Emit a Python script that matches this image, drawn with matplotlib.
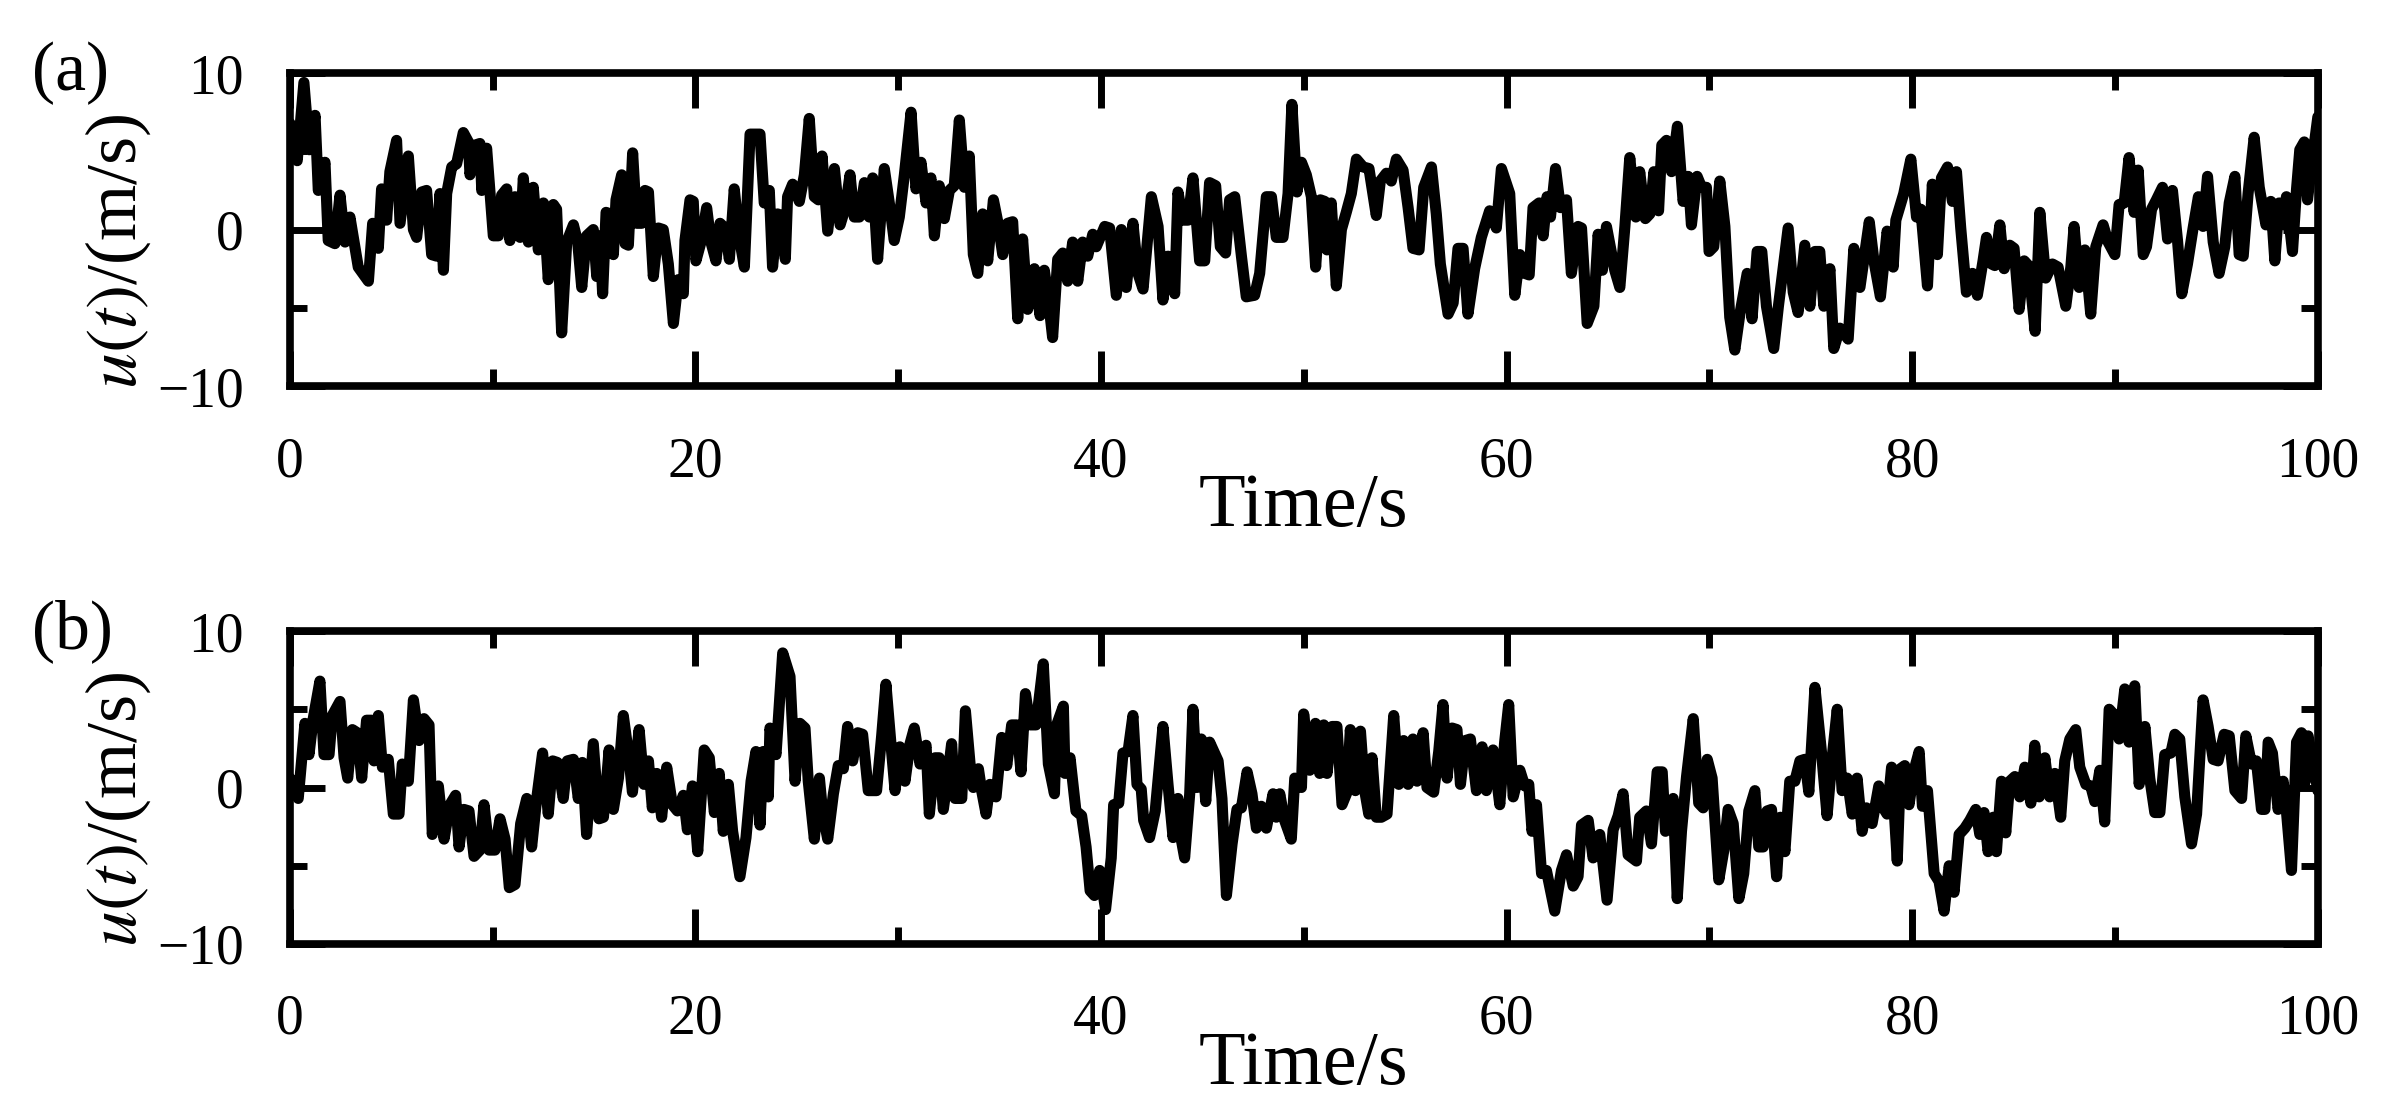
import matplotlib
matplotlib.use("Agg")
import matplotlib.pyplot as plt
from matplotlib.ticker import MultipleLocator

plt.rcParams['font.family'] = 'Liberation Serif'
plt.rcParams['mathtext.fontset'] = 'stix'

# (a) wind speed series (turning points)
t_a = [0.0, 0.36, 0.69, 0.96, 1.24, 1.40, 1.73, 1.89, 2.22, 2.47, 2.72, 2.96, 3.37, 3.87,
       4.08, 4.36, 4.52, 4.77, 4.93, 5.26, 5.43, 5.84, 6.09, 6.25, 6.50, 6.74, 6.99, 7.24,
       7.40, 7.57, 7.73, 7.98, 8.22, 8.55, 8.80, 8.88, 9.13, 9.37, 9.46, 9.70, 10.03, 10.28,
       10.44, 10.69, 10.85, 11.10, 11.35, 11.51, 11.76, 12.00, 12.25, 12.50, 12.74, 12.99,
       13.15, 13.40, 13.65, 13.98, 14.19, 14.39, 14.63, 14.96, 15.13, 15.29, 15.42, 15.59,
       15.79, 15.95, 16.08, 16.36, 16.53, 16.69, 16.90, 17.10, 17.35, 17.51, 17.68, 17.92,
       18.17, 18.41, 18.66, 18.91, 19.15, 19.40, 19.48, 19.73, 19.89,
       20.02, 20.27, 20.55, 20.76, 21.01, 21.21, 21.45, 21.67, 21.91, 22.16, 22.41, 22.69,
       23.18, 23.39, 23.64, 23.80, 24.05, 24.22, 24.43, 24.54, 24.79, 25.12, 25.37, 25.61,
       25.86, 26.06, 26.24, 26.52, 26.85, 27.13, 27.39, 27.62, 27.83, 28.08, 28.33, 28.57,
       28.74, 28.98, 29.31, 29.59, 29.80, 30.05, 30.30, 30.63, 30.87, 31.12, 31.37, 31.61,
       31.78, 32.02, 32.27, 32.52, 32.76, 33.01, 33.26, 33.50, 33.70, 33.92, 34.16, 34.41,
       34.69, 34.95, 35.15, 35.39, 35.64, 35.89, 36.13, 36.38, 36.71, 36.99, 37.20, 37.37,
       37.61, 37.86, 38.11, 38.35, 38.60, 38.85, 39.09, 39.34, 39.59,
       39.76, 40.18, 40.42, 40.75, 41.00, 41.24, 41.57, 41.82, 42.07, 42.48, 42.81, 43.05,
       43.30, 43.63, 43.79, 44.04, 44.29, 44.53, 44.86, 45.11, 45.35, 45.65, 45.88, 46.14,
       46.34, 46.59, 46.92, 47.16, 47.57, 47.82, 48.15, 48.40, 48.64, 48.97, 49.22, 49.41,
       49.66, 49.88, 50.12, 50.37, 50.58, 50.81, 51.03, 51.14, 51.35, 51.60, 51.85, 52.09,
       52.34, 52.59, 52.92, 53.21, 53.57, 53.77, 54.07, 54.31, 54.56, 54.89, 55.14, 55.38,
       55.68, 55.91, 56.29, 56.53, 56.73, 57.11, 57.36, 57.60, 57.85, 58.09, 58.42, 58.75,
       59.16, 59.49, 59.74,
       60.15, 60.40, 60.65, 60.89, 61.11, 61.30, 61.60, 61.80, 61.99, 62.16, 62.41, 62.65,
       62.95, 63.19, 63.52, 63.69, 63.97, 64.30, 64.51, 64.72, 64.92, 65.33, 65.58, 65.83,
       66.07, 66.37, 66.56, 66.84, 67.06, 67.26, 67.49, 67.65, 67.88, 68.13, 68.42, 68.70,
       68.95, 69.11, 69.39, 69.61, 69.85, 69.98, 70.21, 70.51, 70.76, 71.00, 71.25, 71.50,
       71.86, 72.10, 72.35, 72.58, 72.81, 73.17, 73.40, 73.88, 74.13, 74.37, 74.70, 74.95,
       75.20, 75.44, 75.64, 75.94, 76.13, 76.43, 76.84, 77.12, 77.42, 77.88, 78.11, 78.43,
       78.76, 79.06, 79.19, 79.58, 79.93,
       80.21, 80.42, 80.75, 80.99, 81.24, 81.44, 81.74, 81.98, 82.18, 82.39, 82.67, 82.97,
       83.21, 83.49, 83.66, 83.91, 84.07, 84.32, 84.53, 84.81, 85.02, 85.27, 85.52, 85.73,
       86.06, 86.29, 86.58, 86.91, 87.19, 87.57, 87.82, 87.98, 88.23, 88.51, 88.80, 89.05,
       89.41, 89.66, 89.99, 90.20, 90.45, 90.69, 90.94, 91.14, 91.39, 91.55, 91.80, 92.04,
       92.34, 92.59, 92.83, 93.08, 93.29, 93.57, 93.85, 94.11, 94.34, 94.56, 94.84, 95.13,
       95.41, 95.63, 95.91, 96.12, 96.32, 96.56, 96.86, 97.11, 97.44, 97.68, 97.88, 98.09,
       98.34, 98.45, 98.75, 98.95, 99.11, 99.33, 99.49, 99.66, 100.0]
u_a = [6.8, 4.4, 9.4, 5.1, 7.3, 2.5, 4.3, -0.7, -0.9, 2.2, -0.8, 0.8, -2.4, -3.3,
       0.4, -1.2, 2.6, 0.6, 3.7, 5.7, 0.4, 4.7, 0.0, -0.5, 2.4, 2.5, -1.6, -1.7,
       2.3, -2.6, 2.3, 4.0, 4.2, 6.2, 5.6, 3.5, 5.4, 5.5, 2.5, 5.2, -0.4, -0.4,
       2.2, 2.6, -0.7, 2.1, -0.5, 3.3, -0.8, 2.7, -1.3, 1.7, -3.2, 1.6,
       1.3, -6.6, -0.8, 0.3, -0.8, -3.7, -0.4, 0.0, -3.0, -0.4, -4.1, 1.1,
       1.0, -1.6, 1.9, 3.5, -0.9, -1.0, 4.9, 0.4, 0.4, 2.5, 2.4, -3.0,
       0.1, 0.0, -2.2, -6.0, -3.2, -4.1, -0.7, 1.9, 1.8,
       -2.0, -0.8, 1.4, -0.8, -2.0, 0.4, 0.1, -1.9, 2.6, -0.5, -2.4, 6.1,
       6.1, 1.7, 2.5, -2.4, 1.0, 0.9, -1.9, 2.1, 2.9, 1.8, 3.5, 7.1,
       2.1, 1.9, 4.7, -0.1, 3.9, 0.3, 1.4, 3.5, 0.8, 0.8, 3.0, 0.8,
       3.3, -1.9, 3.9, 1.4, -0.7, 0.8, 3.5, 7.5, 2.6, 4.3, 1.7, 3.3,
       -0.4, 2.8, 0.7, 2.5, 2.8, 7.0, 2.7, 4.7, -1.6, -2.8, 1.0, -2.0,
       1.9, 0.2, -1.6, 0.4, 0.5, -5.7, -0.6, -5.1, -2.5, -5.5, -2.6, -4.1,
       -6.9, -1.9, -1.5, -3.3, -0.8, -3.3, -0.8, -1.7, -0.3,
       -1.1, 0.2, 0.1, -4.2, 0.0, -3.7, 0.4, -2.8, -3.8, 2.1, 0.2, -4.5,
       -1.7, -4.1, 2.4, 0.6, 0.6, 3.3, -2.0, -2.0, 3.0, 2.8, -1.1, -1.5,
       1.9, 2.1, -1.7, -4.3, -4.2, -2.8, 2.1, 2.1, -0.5, -0.5, 2.3, 8.0,
       2.4, 4.3, 3.5, 2.1, -2.4, 1.9, 1.8, -1.3, 1.7, -3.6, 0.0, 1.1,
       2.3, 4.5, 4.0, 3.9, 0.9, 3.1, 3.6, 3.1, 4.5, 3.8, 1.4, -1.2,
       -1.3, 2.7, 4.0, 1.0, -2.2, -5.4, -4.7, -1.2, -1.2, -5.4, -2.5, -0.5,
       1.2, 0.1, 3.9,
       2.3, -4.2, -1.6, -2.8, -2.9, 1.4, 1.7, -0.4, 2.1, 0.8, 3.9, 1.4,
       1.9, -2.8, 0.2, 0.1, -6.0, -4.9, -0.3, -2.6, 0.2, -2.6, -3.7, 0.2,
       4.6, 0.8, 3.7, 0.7, 1.0, 3.7, 1.2, 5.4, 5.7, 3.7, 6.6, 1.8,
       3.4, 0.3, 3.4, 2.7, 2.7, -1.4, -1.1, 3.1, 0.2, -5.6, -7.7, -5.4,
       -2.8, -5.7, -1.4, -1.4, -4.9, -7.6, -4.9, 0.1, -4.0, -5.3, -1.0, -4.9,
       -1.4, -1.4, -4.9, -2.5, -7.6, -6.3, -7.0, -1.2, -3.7, 0.5, -2.0, -4.3,
       -0.1, -2.4, 0.6, 2.3, 4.5,
       0.8, 1.3, -3.6, 2.9, -1.6, 3.3, 4.0, 1.8, 3.7, 0.1, -4.0, -2.8,
       -4.2, -2.0, -0.5, -2.2, -2.3, 0.3, -2.5, -1.0, -1.2, -5.1, -2.0, -2.3,
       -6.5, 1.1, -3.1, -2.2, -2.4, -4.9, -2.4, 0.2, -3.7, -1.3, -5.4, -1.1,
       0.3, -0.8, -1.6, 1.6, 1.7, 4.6, 1.1, 3.8, -1.6, -1.1, 1.3, 1.9,
       2.7, -0.6, 2.5, -0.7, -4.1, -2.2, 0.1, 2.1, 0.2, 3.4, -0.8, -2.8,
       -1.1, 1.7, 3.4, -1.6, -1.7, 2.3, 5.9, 2.7, 0.3, 1.8, -2.0, 1.7,
       0.3, 2.1, -1.4, 2.6, 5.1, 5.6, 1.9, 3.8, 7.2]

# (b) wind speed series
t_b = [0.0, 0.41, 0.74, 0.94, 1.15, 1.48, 1.68, 1.93, 2.09, 2.47, 2.67, 2.85, 3.08, 3.32,
       3.54, 3.78, 4.03, 4.15, 4.36, 4.56, 4.85, 5.10, 5.38, 5.54, 5.84, 6.09, 6.37, 6.61,
       6.86, 7.02, 7.32, 7.60, 7.89, 8.17, 8.34, 8.58, 8.83, 9.08, 9.37, 9.57, 9.82, 10.11,
       10.36, 10.61, 10.82, 11.10, 11.38, 11.68, 11.92, 12.17, 12.46, 12.74, 12.96, 13.19,
       13.48, 13.68, 13.98, 14.22, 14.42, 14.63, 14.96, 15.24, 15.46, 15.74, 15.95, 16.20,
       16.44, 16.72, 16.89, 17.22, 17.46, 17.68, 17.87, 18.09, 18.33, 18.58, 18.86, 19.11,
       19.40, 19.60, 19.85,
       20.11, 20.43, 20.68, 20.93, 21.17, 21.37, 21.62, 21.83, 22.19, 22.49, 22.74, 22.98,
       23.18, 23.34, 23.59, 23.67, 23.97, 24.30, 24.66, 24.91, 25.15, 25.40, 25.56, 25.86,
       26.11, 26.27, 26.52, 26.80, 27.04, 27.29, 27.50, 27.75, 28.00, 28.24, 28.52, 28.93,
       29.18, 29.39, 29.67, 29.84, 30.08, 30.33, 30.58, 30.79, 31.07, 31.37, 31.53, 31.81,
       32.02, 32.22, 32.39, 32.63, 32.80, 33.13, 33.31, 33.54, 33.70, 33.95, 34.11, 34.33,
       34.52, 34.82, 35.10, 35.35, 35.59, 35.84, 36.05, 36.27, 36.50, 36.79, 37.15, 37.40,
       37.70, 37.81, 38.14, 38.22, 38.47, 38.76, 39.04, 39.26, 39.46, 39.67,
       39.93, 40.22, 40.50, 40.62, 40.87, 41.08, 41.33, 41.57, 41.77, 41.98, 42.10, 42.39,
       42.67, 43.05, 43.30, 43.55, 43.79, 43.91, 44.12, 44.37, 44.53, 44.73, 44.94, 45.16,
       45.35, 45.77, 45.96, 46.18, 46.46, 46.70, 46.92, 47.20, 47.44, 47.66, 47.90, 48.15,
       48.48, 48.64, 48.81, 49.05, 49.38, 49.55, 49.88, 49.99, 50.29, 50.57, 50.78, 50.98,
       51.14, 51.39, 51.63, 51.88, 52.13, 52.29, 52.54, 52.79, 53.00, 53.20, 53.36, 53.57,
       53.82, 54.10, 54.43, 54.68, 54.92, 55.14, 55.38, 55.58, 55.88, 56.07, 56.40, 56.65,
       56.86, 57.06, 57.31, 57.55, 57.72, 57.96, 58.21, 58.51, 58.79, 59.00, 59.33, 59.66,
       59.90, 60.10,
       60.32, 60.65, 60.89, 61.09, 61.25, 61.47, 61.72, 61.96, 62.37, 62.70, 62.95, 63.28,
       63.52, 63.69, 64.02, 64.26, 64.59, 64.95, 65.25, 65.50, 65.74, 65.99, 66.40, 66.56,
       66.89, 67.14, 67.42, 67.67, 67.83, 68.21, 68.41, 68.62, 68.87, 69.20, 69.47, 69.69,
       69.89, 70.13, 70.46, 70.71, 70.92, 71.17, 71.45, 71.69, 71.94, 72.24, 72.43, 72.65,
       72.84, 73.06, 73.31, 73.50, 73.72, 73.96, 74.21, 74.46, 74.70, 74.90, 75.20, 75.52,
       75.80, 76.05, 76.30, 76.54, 76.79, 77.04, 77.28, 77.53, 77.74, 78.02, 78.35, 78.57,
       78.76, 78.98, 79.26, 79.42, 79.63, 79.84,
       80.09, 80.34, 80.50, 80.75, 81.08, 81.32, 81.57, 81.82, 82.06, 82.31, 82.59, 82.84,
       83.13, 83.33, 83.54, 83.74, 83.99, 84.15, 84.40, 84.61, 84.81, 85.06, 85.30, 85.55,
       85.85, 86.04, 86.26, 86.54, 86.78, 87.03, 87.32, 87.52, 87.77, 88.06, 88.26, 88.56,
       88.80, 89.00, 89.25, 89.49, 89.71, 89.99, 90.20, 90.48, 90.69, 90.97, 91.19, 91.47,
       91.71, 91.96, 92.21, 92.45, 92.75, 92.95, 93.19, 93.44, 93.77, 94.02, 94.34, 94.59,
       94.84, 95.08, 95.38, 95.63, 95.91, 96.24, 96.45, 96.73, 96.97, 97.22, 97.39, 97.55,
       97.76, 98.04, 98.29, 98.45, 98.70, 98.95, 99.19, 99.36, 99.52, 100.0]
u_b = [0.6, -0.7, 4.1, 2.1, 4.4, 6.8, 2.1, 2.1, 4.6, 5.5, 1.9, 0.6, 3.7, 3.5,
       0.6, 4.3, 4.3, 1.7, 4.6, 1.3, 1.8, -1.7, -1.7, 1.5, 0.4, 5.6, 3.0, 4.4,
       4.0, -3.0, 0.1, -3.3, -1.1, -0.5, -3.8, -1.4, -1.5, -4.4, -4.0, -1.1, -4.0, -4.0,
       -2.0, -3.3, -6.4, -6.2, -2.3, -0.7, -3.8, -0.7, 2.2, -1.7, 1.7, 1.6,
       -0.7, 1.7, 1.8, -0.7, 1.6, -3.0, 2.8, -2.0, -1.9, 2.4, -1.4, 0.6,
       4.6, 1.9, -0.3, 3.7, 0.2, 1.7, -1.3, 0.9, -1.9, 1.3, -1.1, -1.5,
       -0.5, -2.7, 0.1,
       -4.1, 2.4, 1.9, -1.6, 0.9, -2.8, 0.2, -2.8, -5.7, -3.2, 0.4, 2.3,
       -2.4, 2.3, -0.6, 3.8, 2.1, 8.6, 7.1, 0.4, 4.1, 3.8, 0.4, -3.3,
       0.6, -1.6, -3.3, -0.4, 1.4, 1.2, 3.9, 1.7, 3.5, 3.4, -0.2, -0.2,
       3.3, 6.6, 2.3, -0.2, 2.6, 0.4, 2.8, 3.8, 1.5, 2.7, -1.7, 1.9,
       1.9, -1.4, 0.2, 2.8, -0.7, -0.7, 4.9, 1.5, 0.0, 1.2, -0.2, -1.7,
       0.2, -0.6, 3.2, 1.4, 4.0, 4.0, 1.0, 6.0, 4.0, 4.0, 7.9, 1.5,
       -0.4, 4.0, 5.2, 0.9, 1.9, -1.5, -1.8, -3.8, -6.6, -6.9,
       -5.3, -7.8, -4.5, -1.1, -1.0, 2.2, 2.3, 4.6, 0.2, -0.1, -2.1, -3.2,
       -1.5, 3.9, 0.2, -3.2, -0.7, -3.0, -4.5, -0.4, 5.0, 0.0, 3.1, -0.9,
       2.9, 1.7, -0.7, -6.9, -3.6, -1.4, -1.3, 1.0, -0.4, -2.6, -1.2, -2.6,
       -0.4, -1.9, -0.4, -2.1, -3.3, 0.6, 0.0, 4.7, 1.1, 4.1, 0.9, 4.0,
       0.9, 3.9, 3.9, -1.1, -0.3, 3.7, -0.2, 3.6, -0.2, -1.7, 1.9, -1.9,
       -1.9, -1.7, 4.6, 0.2, 3.0, 0.2, 3.1, 0.4, 3.5, 0.0, -0.3, 2.3,
       5.3, 0.6, 3.8, 3.7, 0.2, 3.0, 3.1, -0.2, 2.6, -0.2, 2.4, -1.1,
       2.9, 5.3,
       -0.6, 1.1, 0.1, 0.2, -2.8, -1.1, -5.5, -5.3, -7.9, -5.3, -4.3, -6.3,
       -5.7, -2.4, -2.1, -4.5, -3.0, -7.2, -2.7, -1.8, -0.4, -4.3, -4.7, -1.9,
       -1.5, -3.6, 1.0, 1.0, -2.8, -0.7, -7.1, -2.8, 0.7, 4.4, -1.0, -1.3,
       1.8, 0.6, -5.9, -4.0, -1.4, -2.3, -7.1, -5.5, -1.5, -0.2, -3.8, -3.8,
       -1.5, -1.4, -5.7, -1.9, -4.1, 0.4, 0.4, 1.7, 1.8, -0.3, 6.4, 2.3,
       -1.8, 1.9, 5.0, -0.2, 0.6, -1.7, 0.6, -2.8, -1.3, -2.3, 0.1, -1.3,
       -1.7, 1.3, -4.7, 1.2, 1.4, -1.1,
       1.1, 2.3, -1.2, -0.2, -5.5, -6.0, -7.9, -5.0, -6.7, -3.0, -2.6, -2.1,
       -1.4, -3.0, -1.6, -4.1, -1.9, -4.1, 0.4, -2.9, 0.4, 0.7, -0.6, 1.3,
       -1.0, 2.7, -0.6, 1.9, -0.6, 0.9, -1.9, 1.7, 3.1, 3.7, 1.3, 0.2,
       0.1, -0.9, 1.1, -2.2, 5.0, 4.6, 3.1, 6.3, 2.9, 6.5, 0.2, 3.9,
       0.6, -1.6, -1.6, 2.1, 2.2, 3.4, 3.1, -0.6, -3.6, -1.7, 5.6, 3.9,
       1.8, 1.7, 3.4, 3.3, -0.2, -0.7, 3.3, 1.5, 1.7, -1.4, -1.4, 2.9,
       2.2, -1.4, 0.4, -1.5, -5.3, 2.9, 3.5, 0.3, 3.3, -0.2]

panels = [("(a)", t_a, u_a), ("(b)", t_b, u_b)]
bottoms = [0.6519, 0.1488]

fig = plt.figure(figsize=(23.92, 11.09), dpi=100)

for (tag, t, u), bot in zip(panels, bottoms):
    ax = fig.add_axes([0.1212, bot, 0.8478, 0.2822])
    ax.plot(t, u, color='black', linewidth=8,
            solid_joinstyle='round', solid_capstyle='round')
    ax.set_xlim(0, 100)
    ax.set_ylim(-10, 10)
    ax.xaxis.set_major_locator(MultipleLocator(20))
    ax.xaxis.set_minor_locator(MultipleLocator(10))
    ax.yaxis.set_major_locator(MultipleLocator(10))
    ax.yaxis.set_minor_locator(MultipleLocator(5))
    ax.tick_params(which='both', direction='in', top=True, right=True, width=5)
    ax.tick_params(which='major', length=25, labelsize=40)
    ax.tick_params(which='minor', length=12)
    ax.tick_params(axis='x', which='major', pad=36)
    ax.tick_params(axis='y', which='major', pad=33)
    for sp in ax.spines.values():
        sp.set_linewidth(5.5)
    ax.set_xlabel('Time/s', fontsize=55)
    ax.xaxis.set_label_coords(0.5, -0.278)
    ax.set_ylabel('$u(t)$/(m/s)', fontsize=52)
    ax.yaxis.set_label_coords(-0.0676, 0.43)
    top = bot + 0.2822
    fig.text(32 / 2392, top, tag, fontsize=50, ha='left', va='center')

fig.savefig('out.png', dpi=100)
